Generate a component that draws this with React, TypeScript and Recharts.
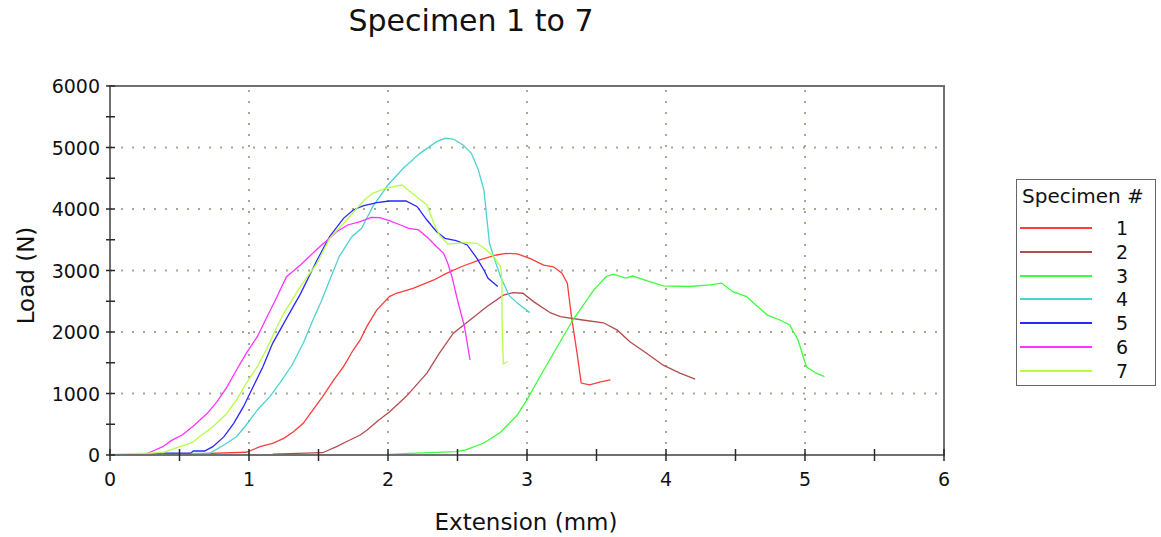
import { LineChart, Line, XAxis, YAxis, ReferenceLine, ReferenceArea } from 'recharts'

// extension (mm), load (N) pairs
const specimen1 = [
  [0.55, 15], [0.98, 45], [1.08, 135], [1.17, 190], [1.25, 271], [1.32, 379], [1.39, 515], [1.46, 732],
  [1.53, 948], [1.61, 1220], [1.68, 1436], [1.75, 1707], [1.8, 1870], [1.85, 2100], [1.92, 2360],
  [2.01, 2575], [2.06, 2630], [2.18, 2710], [2.33, 2846], [2.42, 2954], [2.54, 3073], [2.66, 3171],
  [2.78, 3252], [2.85, 3279], [2.93, 3270], [3.02, 3198], [3.12, 3089], [3.19, 3060], [3.25, 2960],
  [3.29, 2795], [3.32, 2250], [3.36, 1655], [3.39, 1170], [3.45, 1140], [3.53, 1190], [3.6, 1220],
]
const specimen2 = [
  [1.17, 15], [1.53, 37], [1.63, 135], [1.7, 216], [1.8, 325], [1.85, 406], [1.93, 560], [2.01, 700],
  [2.13, 950], [2.28, 1330], [2.37, 1655], [2.47, 1980], [2.59, 2195], [2.71, 2410], [2.83, 2600],
  [2.9, 2640], [2.97, 2630], [3.05, 2490], [3.17, 2310], [3.24, 2250], [3.4, 2195], [3.55, 2150],
  [3.65, 2030], [3.74, 1840], [3.86, 1655], [3.98, 1460], [4.1, 1330], [4.21, 1235],
]
const specimen3 = [
  [2.01, 10], [2.16, 25], [2.49, 55], [2.56, 85], [2.69, 195], [2.81, 370], [2.93, 650], [3.0, 900],
  [3.1, 1300], [3.19, 1655], [3.33, 2195], [3.48, 2680], [3.57, 2900], [3.62, 2940], [3.71, 2875],
  [3.76, 2910], [3.86, 2835], [3.98, 2750], [4.17, 2740], [4.32, 2765], [4.4, 2795], [4.48, 2655],
  [4.58, 2575], [4.63, 2470], [4.73, 2275], [4.82, 2195], [4.89, 2115], [4.95, 1870], [5.01, 1435],
  [5.08, 1330], [5.14, 1273],
]
const specimen4 = [
  [0.38, 15], [0.72, 30], [0.82, 163], [0.91, 298], [0.98, 488], [1.06, 732], [1.15, 948], [1.22, 1166],
  [1.31, 1463], [1.39, 1816], [1.46, 2195], [1.52, 2500], [1.58, 2840], [1.65, 3230], [1.74, 3550],
  [1.81, 3686], [1.89, 4038], [2.0, 4390], [2.11, 4662], [2.23, 4905], [2.35, 5095], [2.41, 5150],
  [2.47, 5138], [2.54, 5040], [2.6, 4905], [2.65, 4634], [2.69, 4309], [2.71, 3875], [2.73, 3442],
  [2.76, 3225], [2.81, 2900], [2.87, 2600], [2.93, 2470], [3.02, 2315],
]
const specimen5 = [
  [0.24, 0], [0.38, 30], [0.58, 30], [0.6, 65], [0.68, 65], [0.74, 135], [0.82, 298], [0.89, 515],
  [0.96, 786], [1.03, 1111], [1.1, 1436], [1.17, 1816], [1.25, 2141], [1.31, 2380], [1.37, 2620],
  [1.49, 3170], [1.58, 3550], [1.68, 3848], [1.75, 3984], [1.82, 4049], [1.92, 4103], [2.01, 4130],
  [2.13, 4130], [2.21, 4038], [2.28, 3821], [2.35, 3631], [2.41, 3523], [2.49, 3485], [2.57, 3415],
  [2.64, 3198], [2.69, 3008], [2.72, 2873], [2.79, 2740],
]
const specimen6 = [
  [0, 0], [0.25, 5], [0.28, 37], [0.38, 135], [0.44, 233], [0.52, 325], [0.6, 472], [0.7, 678],
  [0.77, 867], [0.84, 1100], [0.91, 1382], [0.98, 1653], [1.06, 1924], [1.13, 2249], [1.19, 2520],
  [1.27, 2900], [1.37, 3090], [1.51, 3390], [1.58, 3523], [1.63, 3631], [1.71, 3740], [1.8, 3794],
  [1.88, 3865], [1.94, 3859], [2.01, 3810], [2.09, 3740], [2.15, 3686], [2.22, 3659], [2.29, 3523],
  [2.35, 3387], [2.4, 3279], [2.43, 3117], [2.46, 2900], [2.5, 2520], [2.55, 2090], [2.59, 1545],
]
const specimen7 = [
  [0, 10], [0.38, 37], [0.48, 119], [0.59, 200], [0.66, 325], [0.74, 460], [0.83, 650], [0.91, 894],
  [0.98, 1166], [1.06, 1436], [1.13, 1735], [1.19, 2033], [1.25, 2304], [1.37, 2740], [1.49, 3120],
  [1.58, 3523], [1.68, 3767], [1.83, 4146], [1.89, 4255], [1.98, 4336], [2.1, 4390], [2.16, 4282],
  [2.22, 4174], [2.28, 4065], [2.33, 3767], [2.37, 3577], [2.43, 3431], [2.49, 3442], [2.57, 3452],
  [2.64, 3442], [2.71, 3333], [2.77, 3198], [2.81, 3062], [2.82, 2846], [2.82, 2195], [2.83, 1480],
  [2.86, 1520],
]

const specimenNames = ['1', '2', '3', '4', '5', '6', '7']
const specimenColors = ['#ff3c3c', '#b34d4d', '#3cff3c', '#4dd2d2', '#2828ff', '#ff33ff', '#b4ff46']
const specimenData = [specimen1, specimen2, specimen3, specimen4, specimen5, specimen6, specimen7]

const xTicks = [0, 0.5, 1, 1.5, 2, 2.5, 3, 3.5, 4, 4.5, 5, 5.5, 6]
const yTicks = [0, 500, 1000, 1500, 2000, 2500, 3000, 3500, 4000, 4500, 5000, 5500, 6000]
const xGrid = [1, 2, 3, 4, 5]
const yGrid = [1000, 2000, 3000, 4000, 5000]

const FONT = '"DejaVu Sans", Verdana, sans-serif'
const GRID = '#a9a898'

function XTick({ x, y, payload }: any) {
  const v = payload.value
  return (
    <g>
      <line x1={x} x2={x} y1={y - 6} y2={y + 6} stroke="#2a2a2a" strokeWidth={1.5} />
      {Number.isInteger(v) && (
        <text x={x} y={y + 24} textAnchor="middle" dominantBaseline="central" fontSize={19} fontFamily={FONT} fill="#111">
          {v}
        </text>
      )}
    </g>
  )
}

function YTick({ x, y, payload }: any) {
  const v = payload.value
  return (
    <g>
      <line x1={x - 4} x2={x + 5} y1={y} y2={y} stroke="#2a2a2a" strokeWidth={1.5} />
      {v % 1000 === 0 && (
        <text x={x - 10} y={y} textAnchor="end" dominantBaseline="central" fontSize={19} fontFamily={FONT} fill="#111">
          {v}
        </text>
      )}
    </g>
  )
}

export default function App() {
  const series = specimenData.map((pts) => pts.map(([ext, load]) => ({ ext, load })))

  return (
    <div style={{ position: 'absolute', left: 0, top: 0, width: 1161, height: 537, background: '#fff', fontFamily: FONT, color: '#111' }}>
      <div style={{ position: 'absolute', left: 0, top: 6, width: 942, textAlign: 'center', fontSize: 30, lineHeight: 1 }}>
        Specimen 1 to 7
      </div>

      <LineChart width={1161} height={537} margin={{ top: 86, right: 217, bottom: 42, left: 50 }}>
        <XAxis
          type="number"
          dataKey="ext"
          domain={[0, 6]}
          ticks={xTicks}
          interval={0}
          height={40}
          tickSize={0}
          tickMargin={0}
          tickLine={false}
          axisLine={{ stroke: '#707070', strokeWidth: 2 }}
          tick={<XTick />}
          allowDataOverflow
        />
        <YAxis
          type="number"
          domain={[0, 6000]}
          ticks={yTicks}
          interval={0}
          width={60}
          tickSize={0}
          tickMargin={0}
          tickLine={false}
          axisLine={{ stroke: '#707070', strokeWidth: 2 }}
          tick={<YTick />}
          allowDataOverflow
        />
        {xGrid.map((v) => (
          <ReferenceLine key={`gx-${v}`} x={v} stroke={GRID} strokeWidth={2} strokeDasharray="2 9" />
        ))}
        {yGrid.map((v) => (
          <ReferenceLine key={`gy-${v}`} y={v} stroke={GRID} strokeWidth={2} strokeDasharray="2 9" />
        ))}
        <ReferenceArea x1={0} x2={6} y1={0} y2={6000} fill="none" stroke="#707070" strokeWidth={2} />
        {series.map((data, i) => (
          <Line
            key={specimenNames[i]}
            data={data}
            dataKey="load"
            name={specimenNames[i]}
            type="linear"
            stroke={specimenColors[i]}
            strokeWidth={1.3}
            dot={false}
            isAnimationActive={false}
          />
        ))}
      </LineChart>

      <div
        style={{
          position: 'absolute', left: 12, top: 263, width: 30, height: 24,
          display: 'flex', alignItems: 'center', justifyContent: 'center',
        }}
      >
        <div style={{ transform: 'rotate(-90deg)', whiteSpace: 'nowrap', fontSize: 23, lineHeight: 1 }}>Load (N)</div>
      </div>
      <div style={{ position: 'absolute', left: 0, top: 511, width: 1052, textAlign: 'center', fontSize: 23, lineHeight: 1 }}>
        Extension (mm)
      </div>

      <div style={{ position: 'absolute', left: 1016, top: 179, width: 140, height: 207, border: '1px solid #666', boxSizing: 'border-box' }}>
        <div style={{ position: 'absolute', left: 5, top: 6, fontSize: 20, lineHeight: 1, whiteSpace: 'nowrap' }}>Specimen #</div>
        {specimenNames.map((name, i) => (
          <div key={name} style={{ position: 'absolute', left: 0, top: Math.round(36 + i * 23.8), width: 138, height: 24 }}>
            <div style={{ position: 'absolute', left: 3, top: 11, width: 72, height: 2, background: specimenColors[i] }} />
            <div style={{ position: 'absolute', left: 85, width: 40, textAlign: 'center', fontSize: 19, lineHeight: '24px' }}>{name}</div>
          </div>
        ))}
      </div>
    </div>
  )
}
